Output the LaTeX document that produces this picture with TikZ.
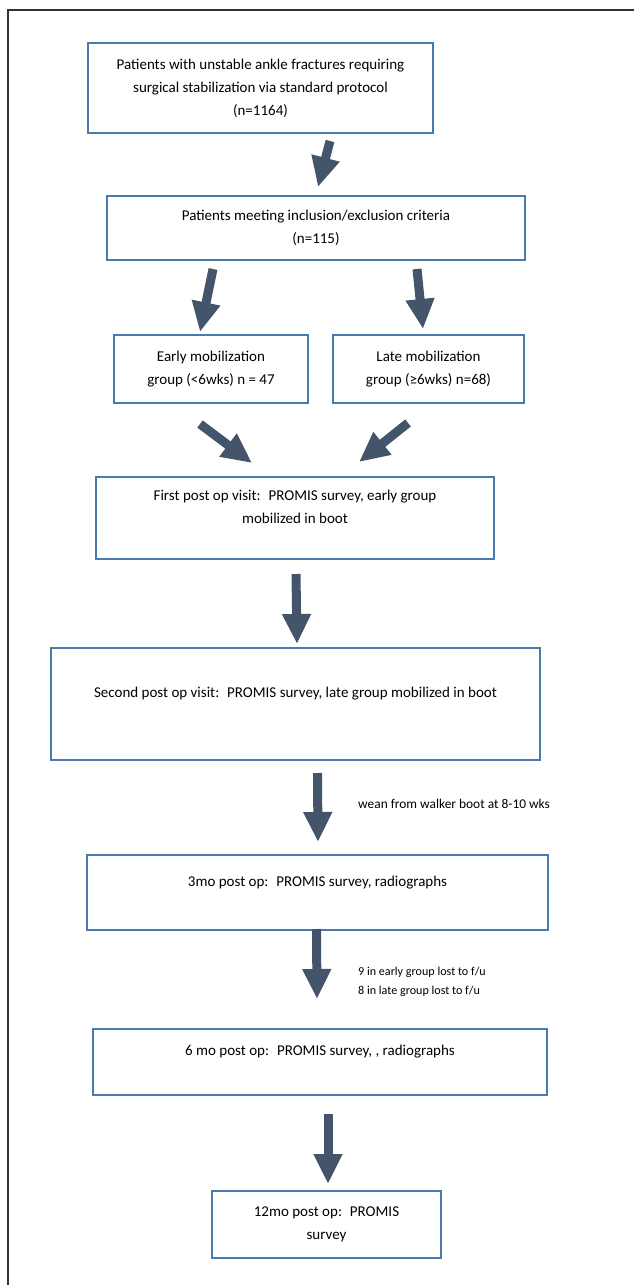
\documentclass[tikz,border=0pt]{standalone}
\usepackage{fontspec}
\setmainfont{Carlito}
\usepackage{xcolor}
\usepackage{tikz}
\usetikzlibrary{arrows.meta, positioning, calc}
\definecolor{boxblue}{HTML}{4A7AAE}
\definecolor{slate}{HTML}{44546A}
\tikzstyle{box} = [draw=boxblue, line width=2pt, rectangle, align=center, font=\fontsize{15}{23}\selectfont]
\tikzstyle{bigarrow} = [draw=slate, line width=9pt, -{Triangle[width=27pt,length=30pt]}, slate]
\tikzstyle{note} = [anchor=west, align=left, inner sep=0pt, font=\fontsize{12.1}{19}\selectfont]

\begin{document}
\begin{tikzpicture}[x=1pt, y=-1pt]
    \useasboundingbox (0,0) rectangle (634,1285);
    % page frame
    \draw[line width=1.5pt, black!80] (8,1285) -- (8,10) -- (634,10);

    % boxes
    \node[box, minimum width=345pt, minimum height=90pt] (total) at (260.5,88)
        {Patients with unstable ankle fractures requiring\\ surgical stabilization via standard protocol\\ (n=1164)};
    \node[box, minimum width=418pt, minimum height=64pt] (incl) at (316,228)
        {Patients meeting inclusion/exclusion criteria\\ (n=115)};
    \node[box, minimum width=194pt, minimum height=68pt] (early) at (211,369)
        {Early mobilization\\ group (<6wks) n = 47};
    \node[box, minimum width=191pt, minimum height=68pt] (late) at (428.5,369)
        {Late mobilization\\ group (≥6wks) n=68)};
    \node[box, minimum width=398pt, minimum height=82pt] (visit1) at (295,518)
        {First post op visit:~ PROMIS survey, early group\\ mobilized in boot\\ \mbox{}};
    \node[box, minimum width=489pt, minimum height=112pt] (visit2) at (295.5,704)
        {Second post op visit:~ PROMIS survey, late group mobilized in boot\\ \mbox{}};
    \node[box, minimum width=461pt, minimum height=75pt] (mo3) at (317.5,892.5)
        {3mo post op:~ PROMIS survey, radiographs\\ \mbox{}};
    \node[box, minimum width=454pt, minimum height=66pt] (mo6) at (320,1062)
        {6 mo post op:~ PROMIS survey, , radiographs\\ \mbox{}};
    \node[box, minimum width=229pt, minimum height=67pt] (mo12) at (326.5,1224.5)
        {12mo post op:~ PROMIS\\ survey};

    % side notes
    \node[note, font=\fontsize{13.4}{19}\selectfont] (wean) at (358,804) {wean from walker boot at 8-10 wks};
    \node[note] (lost) at (358,981.5) {9 in early group lost to f/u\\ 8 in late group lost to f/u};

    % arrows
    \draw[bigarrow] ($(total.south)+(69.5,7)$) -- ($(incl.north)+(2,-8)$);
    \draw[bigarrow] ($(incl.south)+(-103,8)$) -- ($(early.north)+(-11,-2)$);
    \draw[bigarrow] ($(incl.south)+(101,8)$) -- ($(late.north)+(-5.5,-5)$);
    \draw[bigarrow] ($(early.south)+(-11,20)$) -- ($(visit1.north)+(-43,-13)$);
    \draw[bigarrow] ($(late.south)+(-20.5,19)$) -- ($(visit1.north)+(64,-14)$);
    \draw[bigarrow] ($(visit1.south)+(1,14)$) -- ($(visit2.north)+(1.5,-3)$);
    \draw[bigarrow] ($(visit2.south)+(22,12)$) -- ($(mo3.north)+(0.5,-12)$);
    \draw[bigarrow] ($(mo3.south)+(-1,-2)$) -- ($(mo6.north)+(-3,-29)$);
    \draw[bigarrow] ($(mo6.south)+(8,18)$) -- ($(mo12.north)+(1.5,-6)$);
\end{tikzpicture}
\end{document}
